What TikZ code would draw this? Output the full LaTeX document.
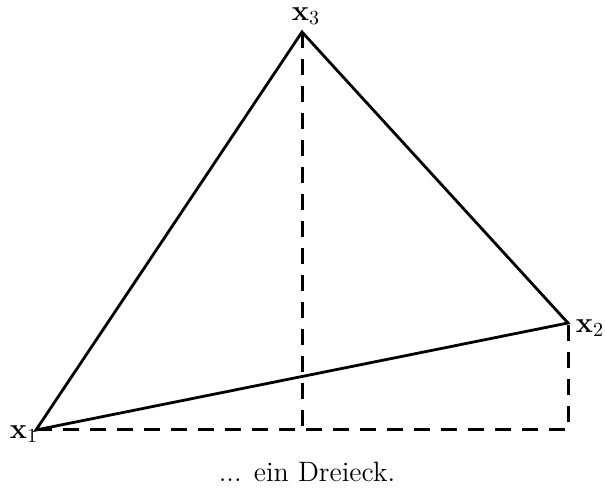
\documentclass[tikz,border=0pt]{standalone}
\begin{document}
\begin{tikzpicture}[x=0.5pt,y=-0.5pt,
  every node/.style={font=\fontsize{14}{17}\selectfont,inner sep=0.5pt},
  solidline/.style={line width=1.4pt},
  dashline/.style={line width=1.5pt,dash pattern=on 8pt off 5.5pt}]
\useasboundingbox (0,0) rectangle (605,491);
\coordinate (x1) at (36,430);
\coordinate (x2) at (568,323);
\coordinate (x3) at (302,32);
\coordinate (f3) at (302,430);
\coordinate (f2) at (568,430);
\draw[solidline,line join=miter] (x1) -- (x2) -- (x3) -- cycle;
\draw[dashline] (x3) -- (f3);
\draw[dashline] (x1) -- (f2) -- (x2);
\node (l1) at (24,434) {$\mathbf{x}_1$};
\node (l2) at (590,328) {$\mathbf{x}_2$};
\node (l3) at (306,16) {$\mathbf{x}_3$};
\node[anchor=base] (cap) at (307,481) {... ein Dreieck.};
\end{tikzpicture}
\end{document}
